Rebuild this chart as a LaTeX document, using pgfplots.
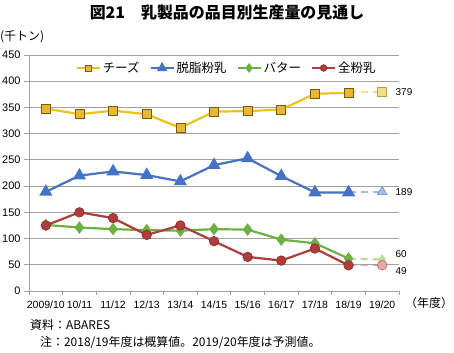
\documentclass[border=0pt]{standalone}
\usepackage{fontspec}
\setmainfont{Liberation Sans}
\newfontfamily\cjk{Noto Sans CJK JP}
\usepackage{pgfplots}
\pgfplotsset{compat=1.18}
\definecolor{cheese}{HTML}{EAC31E}
\definecolor{cheesemk}{HTML}{E8B830}
\definecolor{cheesebd}{HTML}{7A5A10}
\definecolor{cheeselt}{HTML}{F2DF8A}
\definecolor{cheeselbd}{HTML}{B89A40}
\definecolor{skim}{HTML}{4472C4}
\definecolor{skimlt}{HTML}{A9BDE3}
\definecolor{skimlbd}{HTML}{6A88C8}
\definecolor{butter}{HTML}{6BB13F}
\definecolor{butterlt}{HTML}{B7DB93}
\definecolor{whole}{HTML}{B03C3C}
\definecolor{wholebd}{HTML}{8A2A2A}
\definecolor{wholelt}{HTML}{E8A8A8}
\definecolor{wholelbd}{HTML}{C06060}
\definecolor{gridc}{HTML}{A0A0A0}
\begin{document}
\begin{tikzpicture}
\useasboundingbox (0,0) rectangle (454bp,353bp);
\begin{axis}[
  at={(29bp,62bp)}, anchor=south west,
  scale only axis, width=370bp, height=236bp,
  xmin=-0.5, xmax=10.5, ymin=0, ymax=450,
  clip=false,
  axis x line*=bottom, axis y line*=left,
  axis line style={draw=gridc, line width=0.8pt, -},
  ytick={0,50,...,450},
  ymajorgrids, grid style={draw=gridc, line width=0.8pt},
  y tick style={draw=gridc, line width=0.8pt},
  tick align=outside, major tick length=5bp,
  xtick={0,...,10},
  xticklabels={2009/10,10/11,11/12,12/13,13/14,14/15,15/16,16/17,17/18,18/19,19/20},
  x tick style={draw=none},
  extra x ticks={-0.5,0.5,...,10.5},
  extra x tick labels={},
  extra x tick style={x tick style={draw=gridc, line width=0.8pt}, major tick length=4bp},
  /pgf/number format/assume math mode=true,
  yticklabel style={font=\fontsize{11}{11}\selectfont},
  xticklabel style={font=\fontsize{10.5}{10.5}\selectfont, yshift=-1bp},
  legend style={at={(0.534,0.945)}, anchor=center, draw=none, fill=none,
    font=\cjk\fontsize{12.5}{12.5}\selectfont, legend columns=4,
    /tikz/every even column/.append style={column sep=8bp}},
  legend image code/.code={\draw[mark repeat=2,mark phase=2,/tikz/every mark/.append style={scale=0.7}] plot coordinates {(0bp,0bp)(11.5bp,0bp)(23bp,0bp)};},
]
% cheese
\addplot[cheeselt, line width=2.2pt, dash pattern=on 7bp off 5bp, forget plot] coordinates {(9,379)(10,379)};
\addplot[only marks, mark=square*, mark size=4.5bp, mark options={fill=cheeselt, draw=cheeselbd, line width=0.6pt}, forget plot] coordinates {(10,379)};
\addplot[cheese, line width=2.2pt, mark=square*, mark size=4.5bp, mark options={fill=cheesemk, draw=cheesebd, line width=0.6pt, solid}]
  coordinates {(0,348)(1,337)(2,344)(3,337)(4,311)(5,342)(6,343)(7,346)(8,376)(9,378)};
\addlegendentry{チーズ}
% skim
\addplot[skimlt, line width=2.2pt, dash pattern=on 7bp off 5bp, forget plot] coordinates {(9,189)(10,189)};
\addplot[only marks, mark=triangle*, mark size=5.5bp, mark options={fill=skimlt, draw=skimlbd, line width=0.6pt}, forget plot] coordinates {(10,189)};
\addplot[skim, line width=2.2pt, mark=triangle*, mark size=5.5bp, mark options={fill=skim, draw=skim, solid}]
  coordinates {(0,189)(1,220)(2,228)(3,221)(4,209)(5,240)(6,253)(7,219)(8,188)(9,188)};
\addlegendentry{脱脂粉乳}
% butter
\addplot[butterlt, line width=2.2pt, dash pattern=on 7bp off 5bp, forget plot] coordinates {(9,62)(10,60)};
\addplot[only marks, mark=diamond*, mark size=4.5bp, mark options={fill=butterlt, draw=butterlt, line width=0.6pt}, forget plot] coordinates {(10,60)};
\addplot[butter, line width=2.2pt, mark=diamond*, mark size=4.5bp, mark options={fill=butter, draw=butter, solid}]
  coordinates {(0,126)(1,121)(2,118)(3,116)(4,115)(5,118)(6,117)(7,98)(8,91)(9,62)};
\addlegendentry{バター}
% whole
\addplot[wholelt, line width=1.6pt, dash pattern=on 7bp off 5bp, forget plot] coordinates {(9,49)(10,49)};
\addplot[only marks, mark=*, mark size=4.8bp, mark options={fill=wholelt, draw=wholelbd, line width=0.6pt}, forget plot] coordinates {(10,49)};
\addplot[whole, line width=2.2pt, mark=*, mark size=4.8bp, mark options={fill=whole, draw=wholebd, line width=0.6pt, solid}]
  coordinates {(0,125)(1,150)(2,139)(3,107)(4,125)(5,95)(6,65)(7,58)(8,81)(9,49)};
\addlegendentry{全粉乳}
\node[anchor=west, font=\fontsize{10}{10}\selectfont] at (axis cs:10,379) [xshift=10bp] {379};
\node[anchor=west, font=\fontsize{10}{10}\selectfont] at (axis cs:10,189) [xshift=10bp] {189};
\node[anchor=west, font=\fontsize{10}{10}\selectfont] at (axis cs:10,60) [xshift=10bp, yshift=5bp] {60};
\node[anchor=west, font=\fontsize{10}{10}\selectfont] at (axis cs:10,49) [xshift=10bp, yshift=-6bp] {49};
\end{axis}
\node[font=\cjk\bfseries\fontsize{16}{16}\selectfont] at (227bp,341bp) {図21　乳製品の品目別生産量の見通し};
\node[anchor=west, inner sep=0pt, font=\cjk\fontsize{12}{12}\selectfont] at (0bp,316bp) {(千トン)};
\node[anchor=west, inner sep=0pt, font=\cjk\fontsize{12}{12}\selectfont] at (405bp,50bp) {（年度）};
\node[anchor=west, inner sep=0pt, font=\cjk\fontsize{12}{12}\selectfont] at (30bp,28bp) {資料：ABARES};
\node[anchor=west, inner sep=0pt, font=\cjk\fontsize{12}{12}\selectfont] at (40bp,10bp) {注：2018/19年度は概算値。2019/20年度は予測値。};
\end{tikzpicture}
\end{document}
